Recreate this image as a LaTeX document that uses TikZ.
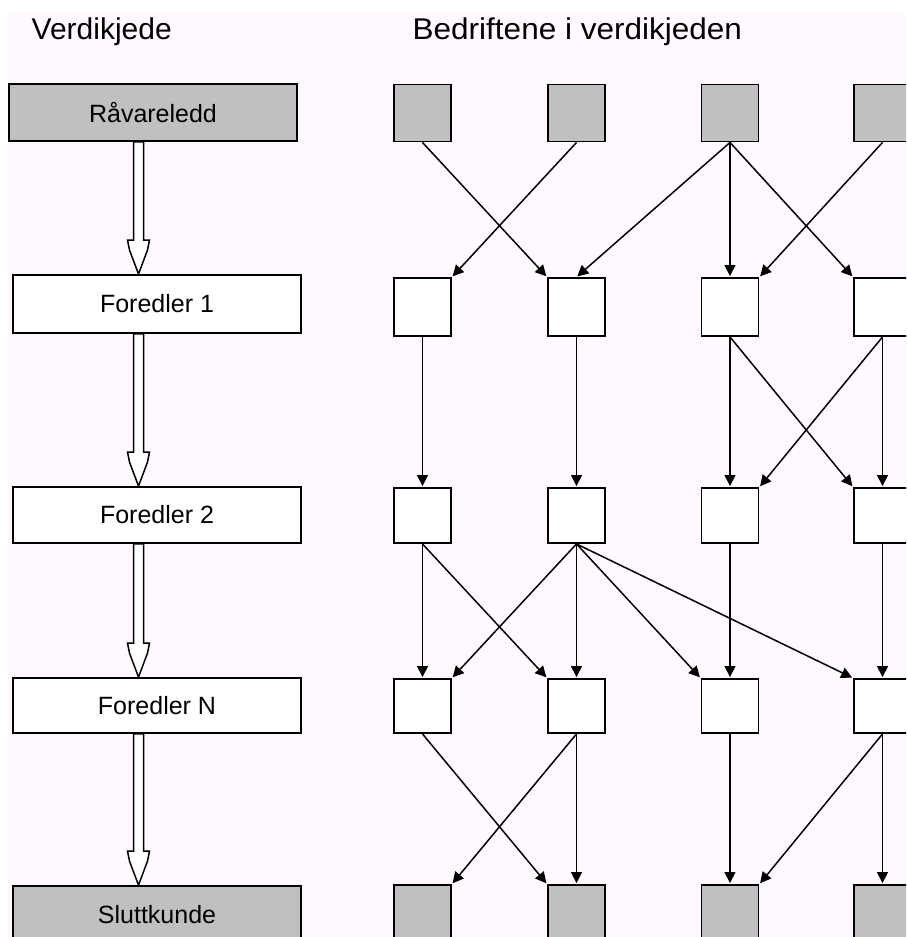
\documentclass[tikz,border=0pt]{standalone}
\usepackage{fontspec}
\setmainfont{Liberation Sans}
\usetikzlibrary{arrows.meta,calc}
\definecolor{bgpink}{HTML}{FFF8FF}
\definecolor{boxgray}{HTML}{C0C0C0}
\newcommand\hollowflow[2]{%
  \draw[hollowarrow] let \p1=(#1.south), \p2=(#2.north) in
    (133.5pt,\y1) -- (133.5pt,\y2+34pt) -- (127.5pt,\y2+34pt) -- (129.5pt,\y2+24pt)
    -- (138.5pt,\y2) -- (147.5pt,\y2+24pt) -- (149.5pt,\y2+34pt) -- (143.5pt,\y2+34pt)
    -- (143.5pt,\y1) -- cycle;}
\begin{document}
\begin{tikzpicture}[x=1pt,y=-1pt,
  chainbox/.style={draw=black, line width=1.9pt, minimum width=288pt, inner sep=0pt,
    font=\fontsize{25}{30}\selectfont},
  firmbox/.style={draw=black, line width=1.9pt, minimum width=57pt, inner sep=0pt},
  rawfill/.style={fill=boxgray},
  midfill/.style={fill=white},
  title/.style={anchor=base west, inner sep=0pt, font=\fontsize{30}{36}\selectfont},
  flow/.style={line width=1.5pt, -{Triangle[length=11pt,width=11pt]}, shorten >=1pt},
  hollowarrow/.style={draw=black, fill=white, line width=1.5pt, line join=miter}
]
\clip (0,0) rectangle (906,937);
\fill[white] (0,0) rectangle (906,937);
\fill[bgpink] (7,13) rectangle (906,937);

% titles
\node[title] (t1) at (31.5,39.3) {Verdikjede};
\node[title] (t2) at (412.5,39.3) {\scalebox{1.05}[1]{Bedriftene i verdikjeden}};

% value chain column
\node[chainbox, rawfill, minimum height=57pt] (rv) at (153,112.5) {Råvareledd};
\node[chainbox, midfill, minimum height=58pt] (f1) at (157,304) {Foredler 1};
\node[chainbox, midfill, minimum height=56pt] (f2) at (157,515) {Foredler 2};
\node[chainbox, midfill, minimum height=55pt] (fn) at (157,705.5) {Foredler N};
\node[chainbox, rawfill, minimum height=57pt] (sk) at (157,914.5) {Sluttkunde};

\hollowflow{rv}{f1}
\hollowflow{f1}{f2}
\hollowflow{f2}{fn}
\hollowflow{fn}{sk}

% firms
\foreach \n/\x in {1/422.5,2/576.5,3/730,4/882.5}{
  \node[firmbox, rawfill, minimum height=57pt] (a\n) at (\x,113) {};
  \node[firmbox, midfill, minimum height=58pt] (b\n) at (\x,307) {};
  \node[firmbox, midfill, minimum height=55pt] (c\n) at (\x,515.5) {};
  \node[firmbox, midfill, minimum height=54pt] (d\n) at (\x,706) {};
  \node[firmbox, rawfill, minimum height=57pt] (e\n) at (\x,913.5) {};
}

% row 1 -> 2
\draw[flow] (a1.south) -- (b2.north west);
\draw[flow] (a2.south) -- (b1.north east);
\draw[flow] (a3.south) -- (b2.north);
\draw[flow] (a3.south) -- (b3.north);
\draw[flow] (a3.south) -- (b4.north west);
\draw[flow] (a4.south) -- (b3.north east);
% row 2 -> 3
\draw[flow] (b1.south) -- (c1.north);
\draw[flow] (b2.south) -- (c2.north);
\draw[flow] (b3.south) -- (c3.north);
\draw[flow] (b3.south) -- (c4.north west);
\draw[flow] (b4.south) -- (c3.north east);
\draw[flow] (b4.south) -- (c4.north);
% row 3 -> 4
\draw[flow] (c1.south) -- (d1.north);
\draw[flow] (c1.south) -- (d2.north west);
\draw[flow] (c2.south) -- (d1.north east);
\draw[flow] (c2.south) -- (d2.north);
\draw[flow] (c2.south) -- (d3.north west);
\draw[flow] (c2.south) -- (d4.north west);
\draw[flow] (c3.south) -- (d3.north);
\draw[flow] (c4.south) -- (d4.north);
% row 4 -> 5
\draw[flow] (d1.south) -- (e2.north west);
\draw[flow] (d2.south) -- (e1.north east);
\draw[flow] (d2.south) -- (e2.north);
\draw[flow] (d3.south) -- (e3.north);
\draw[flow] (d4.south) -- (e3.north east);
\draw[flow] (d4.south) -- (e4.north);
\end{tikzpicture}
\end{document}
